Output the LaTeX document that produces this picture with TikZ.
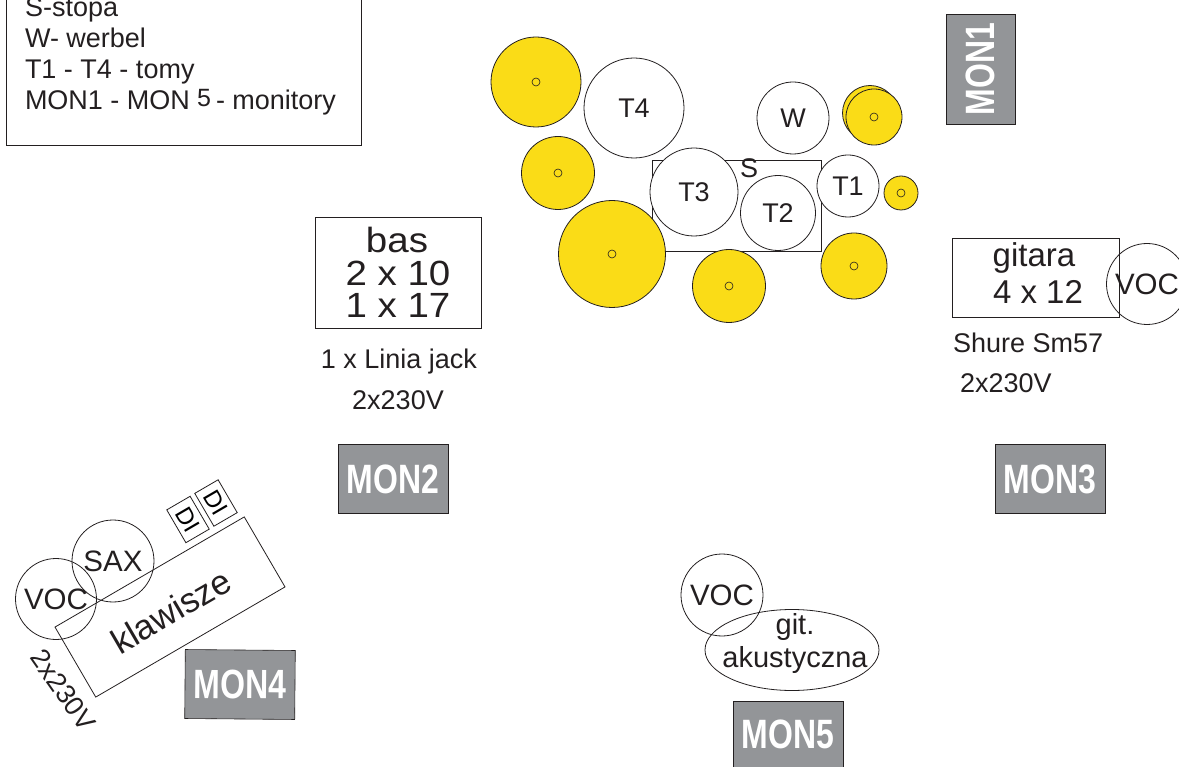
\documentclass[tikz,border=0pt]{standalone}
\usepackage{graphicx}
\usepackage{fontspec}
\setmainfont{Liberation Sans}
\usetikzlibrary{shapes.geometric,positioning}
\definecolor{inkdark}{HTML}{231F20}
\definecolor{cymbal}{HTML}{FADC17}
\definecolor{mongray}{HTML}{939598}
\newcommand{\fs}[1]{\fontsize{#1}{#1}\selectfont}
\newcommand{\mon}[1]{\scalebox{0.78}[1]{\fs{41}\bfseries #1}}
\newcommand{\wide}[1]{\scalebox{1.1}[1]{#1}}
\tikzset{
  txt/.style={text=inkdark,font=\fs{27},inner sep=0pt,outer sep=0pt},
  legend/.style={txt,anchor=base west},
  big/.style={txt,font=\fs{33},align=center},
  box/.style={draw=inkdark,line width=0.8pt,inner sep=0pt,outer sep=0pt},
  ring/.style={box,circle,minimum size=#1,text=inkdark,font=\fs{27}},
  vocal/.style={ring=#1,font=\fs{29.5}},
  drum/.style={ring=#1,fill=white},
  cymbalc/.style={ring=#1,fill=cymbal},
  hole/.style={box,circle,minimum size=8pt,line width=0.6pt},
  monitor/.style={draw=inkdark,line width=0.6pt,fill=mongray,text=white,inner sep=0pt,outer sep=0pt,
    minimum width=110pt,minimum height=69pt},
}
\begin{document}
\begin{tikzpicture}[x=1pt,y=-1pt]
  \useasboundingbox (0,0) rectangle (1179,767);
  % legend
  \coordinate (lega) at (6,0);
  \coordinate (legb) at (6,145);
  \coordinate (legc) at (361,145);
  \coordinate (legd) at (361,0);
  \draw[inkdark,line width=0.8pt] (lega) -- (legb) -- (legc) -- (legd);
  \node[legend] (lg1) at (25,17) {S-stopa};
  \node[legend] (lg2) at (25,48) {W- werbel};
  \node[legend] (lg3) at (25,79) {T1 - T4 - tomy};
  \node[legend] (lg4) at (25,110) {MON1 - MON};
  \node[legend,font=\fs{25}] (lg5) at (197,107) {5};
  \node[legend] (lg6) at (216,110) {- monitory};
  % drum kit
  \node[box,minimum width=169pt,minimum height=91pt] (stopa) at (736.5,205.5) {};
  \node[cymbalc=90pt] (c1) at (536,82) {};
  \node[cymbalc=73pt] (c2) at (558,173) {};
  \node[cymbalc=107pt] (c3) at (612,254) {};
  \node[cymbalc=73pt] (c4) at (729,286) {};
  \node[cymbalc=66pt] (c5) at (854,266) {};
  \node[cymbalc=34pt] (c6) at (901,193) {};
  \node[cymbalc=55pt] (c7b) at (870,113) {};
  \node[cymbalc=56pt] (c7) at (874,117) {};
  \node[hole] (h1) at (c1) {};
  \node[hole] (h2) at (c2) {};
  \node[hole] (h3) at (c3) {};
  \node[hole] (h4) at (c4) {};
  \node[hole] (h5) at (c5) {};
  \node[hole] (h6) at (c6) {};
  \node[hole] (h7) at (c7) {};
  \node[drum=100pt] (t4) at (634,108) {\raisebox{-2pt}{T4}};
  \node[drum=72pt] (w) at (793,118) {W};
  \node[drum=88pt] (t3) at (694,192) {\raisebox{-1pt}{T3}};
  \node[drum=75pt] (t2) at (778,213) {\raisebox{-1pt}{T2}};
  \node[drum=62pt] (t1) at (848,186) {T1};
  \node[txt,font=\fs{27}] (s) at (749,168) {S};
  % bass
  \node[box,minimum width=166pt,minimum height=111pt] (bas) at (398,272.5) {};
  \node[big,font=\fs{35}] (bas1) at (397,240) {\wide{bas}};
  \node[big,font=\fs{35}] (bas2) at (398,273) {\wide{2 x 10}};
  \node[big,font=\fs{35}] (bas3) at (398,305) {\wide{1 x 17}};
  \node[txt] (linia) at (399,362) {1 x Linia jack};
  \node[txt] (basv) at (398,400) {2x230V};
  % guitar
  \node[box,minimum width=167pt,minimum height=79pt] (gitara) at (1035.5,277.5) {};
  \node[big] (git1) at (1034,258) {gitara};
  \node[big] (git2) at (1038,292) {4 x 12};
  \node[vocal=81pt] (voc1) at (1147,284) {VOC};
  \node[txt,anchor=base west] (shure) at (953,353) {Shure Sm57};
  \node[txt,anchor=base west] (gitv) at (960,393) {2x230V};
  % keyboards
  \node[box,rotate=30.2,minimum width=219pt,minimum height=81pt] (klaw) at (170,607) {};
  \node[txt,font=\fs{35},rotate=30.2] (klawt) at (171,611) {klawisze};
  \node[vocal=81pt] (voc2) at (56,599) {VOC};
  \node[vocal=82pt] (sax) at (113,561) {SAX};
  \node[box,rotate=30.2,minimum width=27pt,minimum height=38pt] (di1) at (188,519.5) {\rotatebox{-90}{\fs{24}DI}};
  \node[box,rotate=30.2,minimum width=27pt,minimum height=38pt] (di2) at (216,503) {\rotatebox{-90}{\fs{24}DI}};
  \node[txt,rotate=-55] (keyv) at (63,690) {2x230V};
  % acoustic guitar
  \node[vocal=82pt] (voc3) at (722,595) {VOC};
  \node[box,ellipse,minimum width=174pt,minimum height=81pt] (akus) at (792,650) {};
  \node[txt,font=\fs{29}] (ak1) at (795,627) {git.};
  \node[txt,font=\fs{29}] (ak2) at (795,660) {akustyczna};
  % monitors
  \node[monitor,minimum width=69pt,minimum height=110pt] (mon1) at (980.5,69) {\rotatebox{90}{\mon{MON1}}};
  \node[monitor] (mon2) at (393,479) {\mon{MON2}};
  \node[monitor] (mon3) at (1050,479) {\mon{MON3}};
  \node[monitor,rotate=-0.5] (mon4) at (240,684.5) {\mon{MON4}};
  \node[monitor,anchor=north] (mon5) at (788,701) {\raisebox{3pt}{\mon{MON5}}};
\end{tikzpicture}
\end{document}
